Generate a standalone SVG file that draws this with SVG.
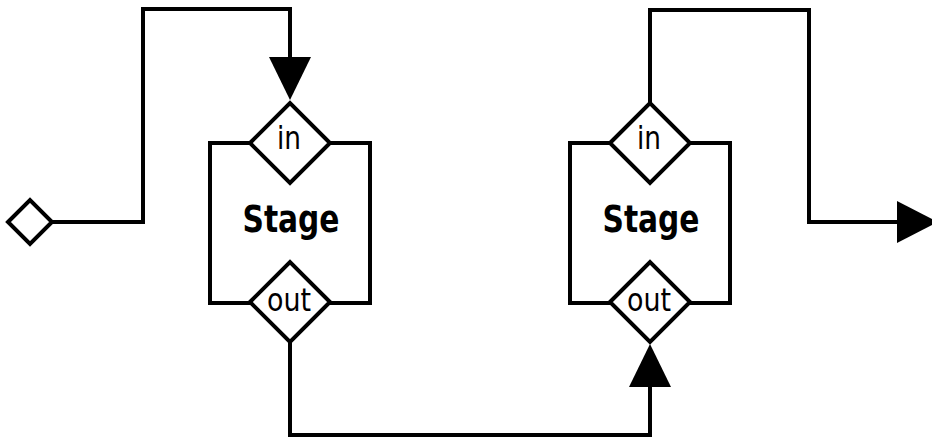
<svg xmlns="http://www.w3.org/2000/svg" width="932" height="441" viewBox="0 0 932 441">
  <style>
    .line { fill: none; stroke: #000; stroke-width: 4; stroke-linejoin: miter; }
    .box { fill: #fff; stroke: #000; stroke-width: 4; }
    .port { fill: #fff; stroke: #000; stroke-width: 4; stroke-linejoin: miter; }
    .head { fill: #000; stroke: none; }
    .title { font-family: "DejaVu Sans Condensed", "DejaVu Sans", sans-serif; font-stretch: condensed; font-weight: bold; font-size: 38px; text-anchor: middle; fill: #000; }
    .label { font-family: "DejaVu Sans Condensed", "DejaVu Sans", sans-serif; font-stretch: condensed; font-size: 32px; text-anchor: middle; fill: #000; }
  </style>

  <!-- connectors -->
  <g id="connectors">
    <path class="line" d="M52,222 H143 V9 H290 V60"/>
    <polygon class="head" points="269,57 311,57 290,100"/>
    <path class="line" d="M290,342 V435 H650 V385"/>
    <polygon class="head" points="629,387 671,387 650,344"/>
    <path class="line" d="M650,103 V10 H809 V222 H900"/>
    <polygon class="head" points="897,201 897,243 938,222"/>
  </g>

  <!-- source terminal -->
  <g id="source">
    <polygon class="port" points="8,222 30,200 52,222 30,244"/>
  </g>

  <!-- first stage -->
  <g id="stage1">
    <rect class="box" x="210" y="143" width="160" height="160"/>
    <text class="title" x="291" y="232" textLength="97" lengthAdjust="spacingAndGlyphs">Stage</text>
    <g id="stage1-in">
      <polygon class="port" points="250,143 290,103 330,143 290,183"/>
      <text class="label" x="289" y="149" textLength="24" lengthAdjust="spacingAndGlyphs">in</text>
    </g>
    <g id="stage1-out">
      <polygon class="port" points="250,302 290,262 330,302 290,342"/>
      <text class="label" x="289" y="311" textLength="44" lengthAdjust="spacingAndGlyphs">out</text>
    </g>
  </g>

  <!-- second stage -->
  <g id="stage2">
    <rect class="box" x="570" y="143" width="160" height="160"/>
    <text class="title" x="651" y="232" textLength="97" lengthAdjust="spacingAndGlyphs">Stage</text>
    <g id="stage2-in">
      <polygon class="port" points="610,143 650,103 690,143 650,183"/>
      <text class="label" x="649" y="149" textLength="24" lengthAdjust="spacingAndGlyphs">in</text>
    </g>
    <g id="stage2-out">
      <polygon class="port" points="610,302 650,262 690,302 650,342"/>
      <text class="label" x="649" y="311" textLength="44" lengthAdjust="spacingAndGlyphs">out</text>
    </g>
  </g>
</svg>
